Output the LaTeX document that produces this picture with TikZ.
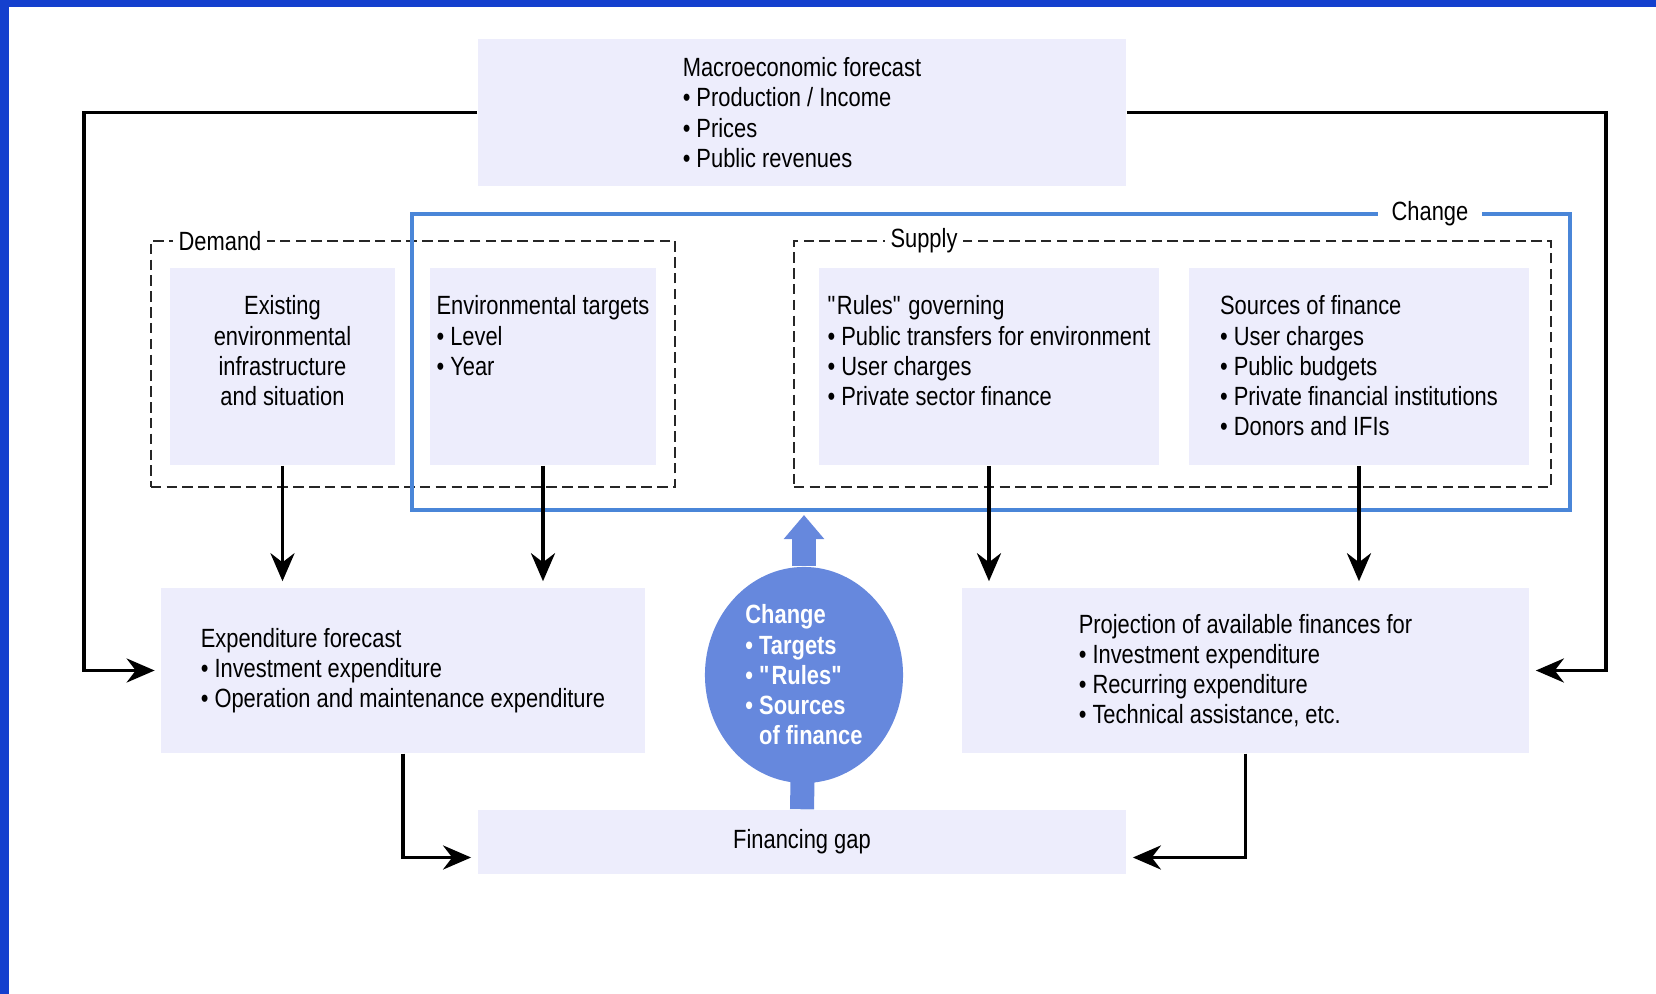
\documentclass[tikz,border=0pt]{standalone}
\usepackage{fontspec}
\setmainfont{Liberation Sans}[FakeStretch=0.83]
\usetikzlibrary{arrows.meta, shapes.geometric, calc}

\definecolor{panelfill}{RGB}{237,237,252}
\definecolor{changeblue}{RGB}{74,134,216}
\definecolor{ballblue}{RGB}{102,136,221}
\definecolor{frameblue}{RGB}{20,64,206}

\tikzstyle{panel} = [rectangle, fill=panelfill, inner sep=0pt, align=left]
\tikzstyle{toppanel} = [rectangle, fill=panelfill, inner sep=0pt, text height=0.47cm, text depth=1.50cm]
\tikzstyle{group} = [rectangle, draw=black!85, line width=0.6pt, dash pattern=on 3pt off 1.5pt, inner sep=0pt]
\tikzstyle{tag} = [fill=white, inner xsep=0.06cm, inner ysep=1pt]
\tikzstyle{arrow} = [line width=1.1pt, -{Stealth[length=0.28cm, width=0.24cm]}, shorten >=0.06cm]
\tikzstyle{blockarrow} = [draw=ballblue, line width=0.24cm, -{Triangle[length=0.24cm, width=0.39cm]}]

\begin{document}
\begin{tikzpicture}[x=0.01cm, y=0.01cm, yscale=-1, every node/.style={font=\fontsize{7.5}{8.6}\selectfont}]

\useasboundingbox (0,0) rectangle (1656,994);
\fill[frameblue] (0,0) rectangle (1656,7);
\fill[frameblue] (0,0) rectangle (9,994);

% dashed groups and the change frame
\node[group, minimum width=5.24cm, minimum height=2.46cm] at (413,364) (demand) {};
\node[group, minimum width=7.57cm, minimum height=2.46cm] at (1172.5,364) (supply) {};
\node[draw=changeblue, line width=1.1pt, minimum width=11.58cm, minimum height=2.96cm, inner sep=0pt] at (991,362) (change) {};
\node[tag] at (220,241) (demandtag) {Demand};
\node[tag] at (924,241) (supplytag) {Supply};
\node[tag, inner xsep=0.14cm] at (1430,214) (changetag) {Change};

\node[panel, minimum width=6.48cm, minimum height=1.47cm] at (802,112.5) (macro) {Macroeconomic forecast\\\textbullet\ Production / Income\\\textbullet\ Prices\\\textbullet\ Public revenues};

\node[toppanel, minimum width=2.25cm] at (282.5,366.5) (exist) {\begin{tabular}[t]{@{}c@{}}Existing\\environmental\\infrastructure\\and situation\end{tabular}};
\node[toppanel, minimum width=2.26cm] at (543,366.5) (targets) {\begin{tabular}[t]{@{}l@{}}Environmental targets\\\textbullet\ Level\\\textbullet\ Year\end{tabular}};
\node[toppanel, minimum width=3.40cm] at (989,366.5) (rules) {\begin{tabular}[t]{@{}l@{}}\textquotedbl Rules\textquotedbl\ governing\\\textbullet\ Public transfers for environment\\\textbullet\ User charges\\\textbullet\ Private sector finance\end{tabular}};
\node[toppanel, minimum width=3.40cm] at (1359,366.5) (sources) {\begin{tabular}[t]{@{}l@{}}Sources of finance\\\textbullet\ User charges\\\textbullet\ Public budgets\\\textbullet\ Private financial institutions\\\textbullet\ Donors and IFIs\end{tabular}};

\node[panel, minimum width=4.83cm, minimum height=1.65cm] at (403,670.5) (exp) {Expenditure forecast\\\textbullet\ Investment expenditure\\\textbullet\ Operation and maintenance expenditure};
\node[panel, minimum width=5.67cm, minimum height=1.65cm] at (1245.5,670.5) (proj) {Projection of available finances for\\\textbullet\ Investment expenditure\\\textbullet\ Recurring expenditure\\\textbullet\ Technical assistance, etc.};
\node[panel, minimum width=6.48cm, minimum height=0.64cm] at (802,842) (gap) {Financing gap};

\draw[ballblue, line width=0.24cm] (804,700) -- (gap.north);
\node[ellipse, fill=ballblue, minimum width=1.98cm, minimum height=2.16cm, inner sep=0pt, text=white, align=left, font=\fontsize{7.5}{8.6}\selectfont\bfseries] at (804,675) (ball) {Change\\\textbullet\ Targets\\\textbullet\ \textquotedbl Rules\textquotedbl\\\textbullet\ Sources\\\phantom{\textbullet\ }of finance};
\draw[blockarrow, shorten >=0.03cm] (ball.north) -- (ball.north |- change.south);

\draw[arrow] (macro.west) -- ++(-393.5,0) |- (exp.west);
\draw[arrow] (macro.east) -- ++(479,0) |- (proj.east);

\draw[arrow] (exist.south) -- (exist.south |- exp.north);
\draw[arrow] (targets.south) -- (targets.south |- exp.north);
\draw[arrow] (rules.south) -- (rules.south |- proj.north);
\draw[arrow] (sources.south) -- (sources.south |- proj.north);

\draw[arrow] (exp.south) |- ($(gap.west)+(0,15.5)$);
\draw[arrow] (proj.south) |- ($(gap.east)+(0,15.5)$);

\end{tikzpicture}
\end{document}
